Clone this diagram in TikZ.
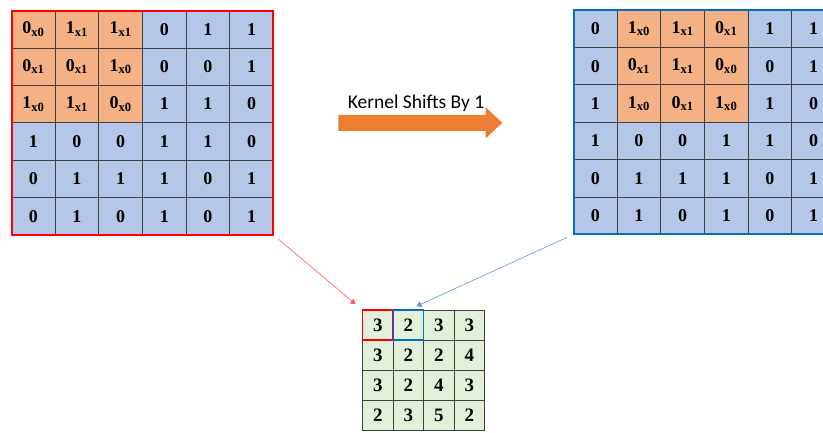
\documentclass[tikz,border=0pt]{standalone}
\usepackage{fontspec}
\newfontfamily\labelfont{Carlito}
\newfontfamily\cellfont{Liberation Serif}
\usetikzlibrary{arrows.meta,shapes.arrows,positioning}
\definecolor{kernelor}{RGB}{244,177,131}
\definecolor{inputbl}{RGB}{180,199,231}
\definecolor{outgr}{RGB}{226,240,217}
\definecolor{shiftor}{RGB}{237,125,49}
\definecolor{winblue}{RGB}{0,112,192}
\definecolor{linkblue}{RGB}{91,155,213}
\definecolor{linkred}{RGB}{255,90,90}
\definecolor{overlap}{RGB}{112,48,160}
\newcommand{\kv}[2]{#1\textsubscript{x#2}}
\tikzset{
  cell/.style={draw=black!75,line width=0.8pt,fill=inputbl,outer sep=0pt,inner sep=0pt,
    minimum width=43.65pt,minimum height=37.4pt,font=\cellfont\fontsize{18}{18}\selectfont\bfseries},
  kcell/.style={cell,fill=kernelor},
  ocell/.style={cell,fill=outgr,minimum width=30.5pt,minimum height=30.2pt,
    font=\cellfont\fontsize{19}{19}\selectfont\bfseries},
  link/.style={line width=0.6pt,-{Triangle[length=5pt,width=6pt]},shorten <=7pt,shorten >=9pt},
  shiftarrow/.style={single arrow,fill=shiftor,draw=none,inner xsep=0pt,inner ysep=7.85pt,
    minimum height=164pt,single arrow head extend=7.5pt,single arrow tip angle=86},
}
\begin{document}
\begin{tikzpicture}[x=1pt,y=-1pt]
  \useasboundingbox (0,0) rectangle (823,432);

  \foreach \row [count=\rw] in {
      {kcell/\kv00,kcell/\kv11,kcell/\kv11,cell/0,cell/1,cell/1},
      {kcell/\kv01,kcell/\kv01,kcell/\kv10,cell/0,cell/0,cell/1},
      {kcell/\kv10,kcell/\kv11,kcell/\kv00,cell/1,cell/1,cell/0},
      {cell/1,cell/0,cell/0,cell/1,cell/1,cell/0},
      {cell/0,cell/1,cell/1,cell/1,cell/0,cell/1},
      {cell/0,cell/1,cell/0,cell/1,cell/0,cell/1}}
    \foreach \s/\val [count=\cl] in \row
      \node[\s] (lf-\rw-\cl) at ({11.5+43.65*(\cl-0.5)},{10.5+37.4*(\rw-0.5)}) {\val};

  \foreach \row [count=\rw] in {
      {cell/0,kcell/\kv10,kcell/\kv11,kcell/\kv01,cell/1,cell/1},
      {cell/0,kcell/\kv01,kcell/\kv11,kcell/\kv00,cell/0,cell/1},
      {cell/1,kcell/\kv10,kcell/\kv01,kcell/\kv10,cell/1,cell/0},
      {cell/1,cell/0,cell/0,cell/1,cell/1,cell/0},
      {cell/0,cell/1,cell/1,cell/1,cell/0,cell/1},
      {cell/0,cell/1,cell/0,cell/1,cell/0,cell/1}}
    \foreach \s/\val [count=\cl] in \row
      \node[\s] (rt-\rw-\cl) at ({573.5+43.65*(\cl-0.5)},{10+37.4*(\rw-0.5)}) {\val};

  \foreach \row [count=\rw] in {{3,2,3,3},{3,2,2,4},{3,2,4,3},{2,3,5,2}}
    \foreach \val [count=\cl] in \row
      \node[ocell] (out-\rw-\cl) at ({362.5+30.5*(\cl-0.5)},{310+30.2*(\rw-0.5)}) {\val};

  \draw[red,line width=2pt] (lf-1-1.north west) rectangle (lf-6-6.south east);
  \draw[winblue,line width=2pt] (rt-1-1.north west) rectangle (rt-6-6.south east);
  \draw[red,line width=1.6pt] (out-1-1.north west) rectangle (out-1-1.south east);
  \draw[winblue,line width=1.6pt] (out-1-2.north west) rectangle (out-1-2.south east);
  \draw[overlap,line width=1.6pt] (out-1-1.north east) -- (out-1-1.south east);

  \node[shiftarrow] (shift) at (416,122.8) {};
  \node[above=3pt of shift,inner sep=0pt,font=\labelfont\fontsize{19.5}{19.5}\selectfont] (shiftlbl) {Kernel Shifts By 1};

  \draw[link,linkred] (lf-6-6.south east) -- (out-1-1.north west);
  \draw[link,linkblue] (rt-6-1.south west) -- (out-1-2.north);
\end{tikzpicture}
\end{document}
